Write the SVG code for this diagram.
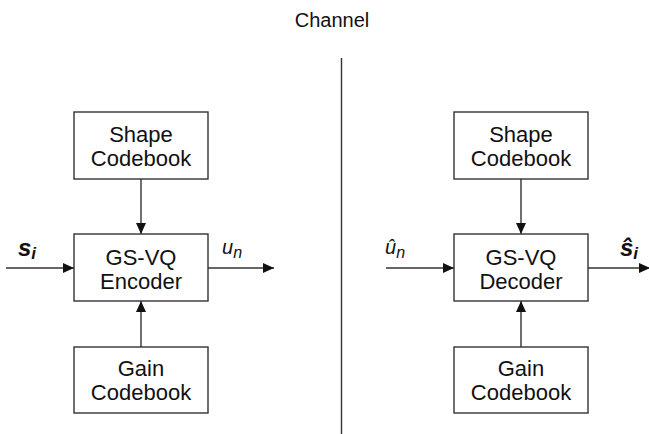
<svg xmlns="http://www.w3.org/2000/svg" width="649" height="434" viewBox="0 0 649 434">
<defs>
<marker id="ah" viewBox="0 0 11 10" refX="11" refY="5" markerWidth="11" markerHeight="10" markerUnits="userSpaceOnUse" orient="auto">
<path d="M0,0 L11,5 L0,10 Z" fill="#111"/>
</marker>
</defs>
<style>
.box{fill:#fff;stroke:#333;stroke-width:1.4}
.t{font-family:"Liberation Sans",Arial,sans-serif;font-size:22px;fill:#111;text-anchor:middle}
.c{stroke:#333;stroke-width:1.4;fill:none}
.lab{font-family:"Liberation Sans",Arial,sans-serif;fill:#111;font-style:italic}
</style>
<rect width="649" height="434" fill="#fff"/>
<text x="332" y="27" class="t" style="font-size:20px">Channel</text>
<line x1="341.5" y1="58" x2="341.5" y2="434" class="c"/>
<g id="connectors">
<line x1="6" y1="268" x2="74" y2="268" class="c" marker-end="url(#ah)"/>
<line x1="208" y1="268" x2="274" y2="268" class="c" marker-end="url(#ah)"/>
<line x1="141" y1="179" x2="141" y2="234" class="c" marker-end="url(#ah)"/>
<line x1="141" y1="347" x2="141" y2="301" class="c" marker-end="url(#ah)"/>
<line x1="386" y1="268" x2="454" y2="268" class="c" marker-end="url(#ah)"/>
<line x1="588" y1="268" x2="650" y2="268" class="c" marker-end="url(#ah)"/>
<line x1="521" y1="179" x2="521" y2="234" class="c" marker-end="url(#ah)"/>
<line x1="521" y1="347" x2="521" y2="301" class="c" marker-end="url(#ah)"/>
</g>
<g id="enc-shape">
<rect x="74" y="112" width="134" height="67" class="box"/>
<text x="141" y="142" class="t">Shape</text>
<text x="141" y="166" class="t">Codebook</text>
</g>
<g id="encoder">
<rect x="74" y="234" width="134" height="67" class="box"/>
<text x="141" y="265" class="t">GS-VQ</text>
<text x="141" y="289" class="t">Encoder</text>
</g>
<g id="enc-gain">
<rect x="74" y="347" width="134" height="66" class="box"/>
<text x="141" y="376" class="t">Gain</text>
<text x="141" y="400" class="t">Codebook</text>
</g>
<g id="dec-shape">
<rect x="454" y="112" width="134" height="67" class="box"/>
<text x="521" y="142" class="t">Shape</text>
<text x="521" y="166" class="t">Codebook</text>
</g>
<g id="decoder">
<rect x="454" y="234" width="134" height="67" class="box"/>
<text x="521" y="265" class="t">GS-VQ</text>
<text x="521" y="289" class="t">Decoder</text>
</g>
<g id="dec-gain">
<rect x="454" y="347" width="134" height="66" class="box"/>
<text x="521" y="376" class="t">Gain</text>
<text x="521" y="400" class="t">Codebook</text>
</g>
<g id="labels">
<text x="18" y="256" class="lab" style="font-weight:bold;font-size:24px">s<tspan dy="3" style="font-size:17px">i</tspan></text>
<text x="222" y="254" class="lab" style="font-size:20px">u<tspan dy="4" style="font-size:16px">n</tspan></text>
<text x="385" y="254" class="lab" style="font-size:20px">û<tspan dy="4" style="font-size:16px">n</tspan></text>
<text x="620" y="256" class="lab" style="font-weight:bold;font-size:24px">ŝ<tspan dy="3" style="font-size:17px">i</tspan></text>
</g>
</svg>
